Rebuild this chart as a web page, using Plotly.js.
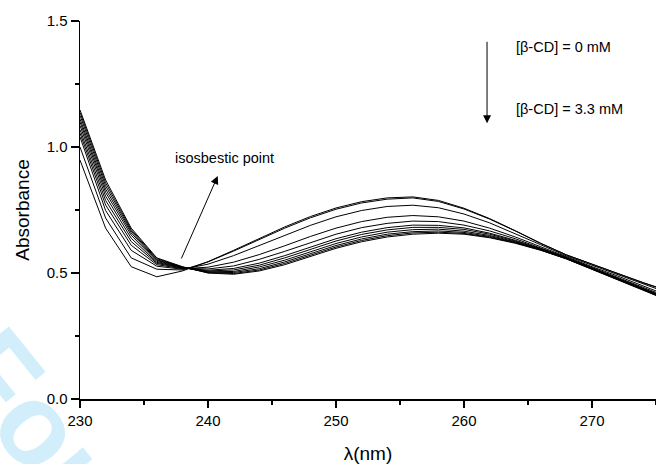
<!DOCTYPE html>
<html>
<head>
<meta charset="utf-8">
<script src="https://cdn.plot.ly/plotly-3.0.1.min.js"></script>
<style>
  html, body { margin: 0; padding: 0; background: #ffffff; }
  #chart { width: 656px; height: 464px; }
</style>
</head>
<body>
<div id="chart"></div>
<script>
// Wavelength (nm)
const wavelength = [230, 232, 234, 236, 238, 240, 242, 244, 246, 248, 250, 252, 254, 256, 258, 260, 262, 264, 266, 268, 270, 272, 274, 276];

// Absorbance spectra, from [β-CD] = 0 mM (s01) to [β-CD] = 3.3 mM (s11)
const s01 = [0.948, 0.678, 0.525, 0.485, 0.508, 0.545, 0.590, 0.638, 0.683, 0.724, 0.758, 0.783, 0.798, 0.802, 0.788, 0.757, 0.716, 0.668, 0.618, 0.572, 0.535, 0.500, 0.462, 0.428];
const s02 = [1.000, 0.718, 0.560, 0.515, 0.512, 0.544, 0.587, 0.634, 0.678, 0.719, 0.753, 0.778, 0.793, 0.798, 0.784, 0.754, 0.714, 0.667, 0.617, 0.572, 0.534, 0.499, 0.461, 0.427];
const s03 = [1.040, 0.748, 0.590, 0.527, 0.515, 0.535, 0.569, 0.609, 0.650, 0.689, 0.723, 0.748, 0.764, 0.769, 0.759, 0.734, 0.699, 0.657, 0.612, 0.568, 0.531, 0.495, 0.455, 0.420];
const s04 = [1.055, 0.770, 0.610, 0.533, 0.517, 0.523, 0.543, 0.573, 0.608, 0.645, 0.678, 0.704, 0.721, 0.728, 0.723, 0.706, 0.678, 0.643, 0.604, 0.564, 0.525, 0.488, 0.447, 0.409];
const s05 = [1.069, 0.788, 0.625, 0.538, 0.519, 0.516, 0.528, 0.554, 0.586, 0.621, 0.654, 0.680, 0.697, 0.706, 0.704, 0.690, 0.667, 0.636, 0.600, 0.562, 0.522, 0.484, 0.443, 0.403];
const s06 = [1.085, 0.805, 0.638, 0.542, 0.520, 0.511, 0.518, 0.539, 0.569, 0.604, 0.636, 0.662, 0.680, 0.690, 0.689, 0.679, 0.658, 0.630, 0.597, 0.560, 0.520, 0.481, 0.439, 0.399];
const s07 = [1.099, 0.820, 0.650, 0.546, 0.521, 0.508, 0.512, 0.531, 0.560, 0.594, 0.627, 0.653, 0.671, 0.681, 0.681, 0.673, 0.654, 0.627, 0.595, 0.559, 0.519, 0.480, 0.437, 0.397];
const s08 = [1.111, 0.833, 0.659, 0.550, 0.522, 0.505, 0.506, 0.524, 0.551, 0.585, 0.617, 0.643, 0.662, 0.672, 0.674, 0.666, 0.649, 0.624, 0.593, 0.558, 0.517, 0.478, 0.436, 0.395];
const s09 = [1.125, 0.846, 0.666, 0.553, 0.523, 0.503, 0.502, 0.517, 0.544, 0.577, 0.609, 0.635, 0.654, 0.664, 0.667, 0.661, 0.645, 0.622, 0.592, 0.557, 0.516, 0.477, 0.434, 0.393];
const s10 = [1.137, 0.858, 0.672, 0.557, 0.524, 0.501, 0.498, 0.512, 0.538, 0.571, 0.603, 0.629, 0.648, 0.659, 0.662, 0.657, 0.642, 0.620, 0.591, 0.556, 0.516, 0.476, 0.433, 0.391];
const s11 = [1.147, 0.869, 0.678, 0.560, 0.525, 0.500, 0.495, 0.508, 0.533, 0.566, 0.598, 0.624, 0.643, 0.654, 0.658, 0.654, 0.640, 0.618, 0.590, 0.556, 0.515, 0.475, 0.432, 0.390];

const spectra = [s01, s02, s03, s04, s05, s06, s07, s08, s09, s10, s11];
const seriesNames = ["[β-CD] = 0 mM", "spectrum 2", "spectrum 3", "spectrum 4", "spectrum 5", "spectrum 6",
                     "spectrum 7", "spectrum 8", "spectrum 9", "spectrum 10", "[β-CD] = 3.3 mM"];

// Axis ticks
const xTicks = [230, 240, 250, 260, 270];
const yTicks = [0.0, 0.5, 1.0, 1.5];

// Annotation texts
const labelTop = "[β-CD] = 0 mM";
const labelBottom = "[β-CD] = 3.3 mM";
const labelIso = "isosbestic point";
const watermark = "For Peer Review";

const FONT = "Liberation Sans, Arial, Helvetica, sans-serif";

const traces = spectra.map((s, i) => ({
  x: wavelength,
  y: s,
  type: "scatter",
  mode: "lines",
  name: seriesNames[i],
  line: { color: "#000000", width: 1 },
  showlegend: false,
  hoverinfo: "x+y+name"
}));

const layout = {
  width: 656,
  height: 464,
  margin: { l: 80, r: 0, t: 21, b: 65, pad: 0 },
  paper_bgcolor: "#ffffff",
  plot_bgcolor: "#ffffff",
  font: { family: FONT, color: "#000000", size: 15 },
  showlegend: false,
  xaxis: {
    range: [230, 275],
    tickvals: xTicks,
    ticktext: xTicks.map(String),
    ticks: "outside",
    ticklen: 7,
    tickwidth: 1.3,
    tickcolor: "#000000",
    showline: true,
    linewidth: 1.5,
    linecolor: "#000000",
    showgrid: false,
    zeroline: false,
    tickfont: { family: FONT, size: 15, color: "#000000" },
    minor: { dtick: 5, tick0: 230, ticks: "outside", ticklen: 4, tickwidth: 1.3, tickcolor: "#000000", showgrid: false },
    title: { text: "λ(nm)", font: { family: FONT, size: 19, color: "#000000" }, standoff: 19 }
  },
  yaxis: {
    range: [0, 1.5],
    tickvals: yTicks,
    ticktext: yTicks.map(v => v.toFixed(1)),
    ticks: "outside",
    ticklen: 8,
    tickwidth: 1.3,
    tickcolor: "#000000",
    showline: true,
    linewidth: 1.5,
    linecolor: "#000000",
    showgrid: false,
    zeroline: false,
    tickfont: { family: FONT, size: 15, color: "#000000" },
    minor: { dtick: 0.25, tick0: 0, ticks: "outside", ticklen: 4, tickwidth: 1.3, tickcolor: "#000000", showgrid: false },
    title: { text: "Absorbance", font: { family: FONT, size: 19, color: "#000000" }, standoff: 12 }
  },
  annotations: [
    {
      xref: "paper", yref: "paper",
      x: 0.3047, y: -0.7765,
      text: watermark,
      showarrow: false,
      textangle: 51,
      xanchor: "center", yanchor: "middle",
      font: { family: "Liberation Sans, Arial, sans-serif", size: 115, color: "#d3eefb", weight: "bold" }
    },
    {
      xref: "x", yref: "y",
      x: 240.76, y: 0.885,
      text: "",
      showarrow: true,
      arrowhead: 2, arrowsize: 1.6, arrowwidth: 1, arrowcolor: "#000000",
      ax: -37, ay: 84
    },
    {
      xref: "x", yref: "y",
      x: 237.3, y: 0.955,
      text: labelIso,
      showarrow: false,
      xanchor: "left", yanchor: "middle",
      font: { family: FONT, size: 14.5, color: "#000000" }
    },
    {
      xref: "x", yref: "y",
      x: 261.8, y: 1.094,
      text: "",
      showarrow: true,
      arrowhead: 2, arrowsize: 1.6, arrowwidth: 1, arrowcolor: "#000000",
      ax: 0, ay: -83
    },
    {
      xref: "x", yref: "y",
      x: 263.9, y: 1.396,
      text: labelTop,
      showarrow: false,
      xanchor: "left", yanchor: "middle",
      font: { family: FONT, size: 14.5, color: "#000000" }
    },
    {
      xref: "x", yref: "y",
      x: 263.9, y: 1.149,
      text: labelBottom,
      showarrow: false,
      xanchor: "left", yanchor: "middle",
      font: { family: FONT, size: 14.5, color: "#000000" }
    }
  ]
};

Plotly.newPlot("chart", traces, layout, { displayModeBar: false, staticPlot: true });
</script>
</body>
</html>
